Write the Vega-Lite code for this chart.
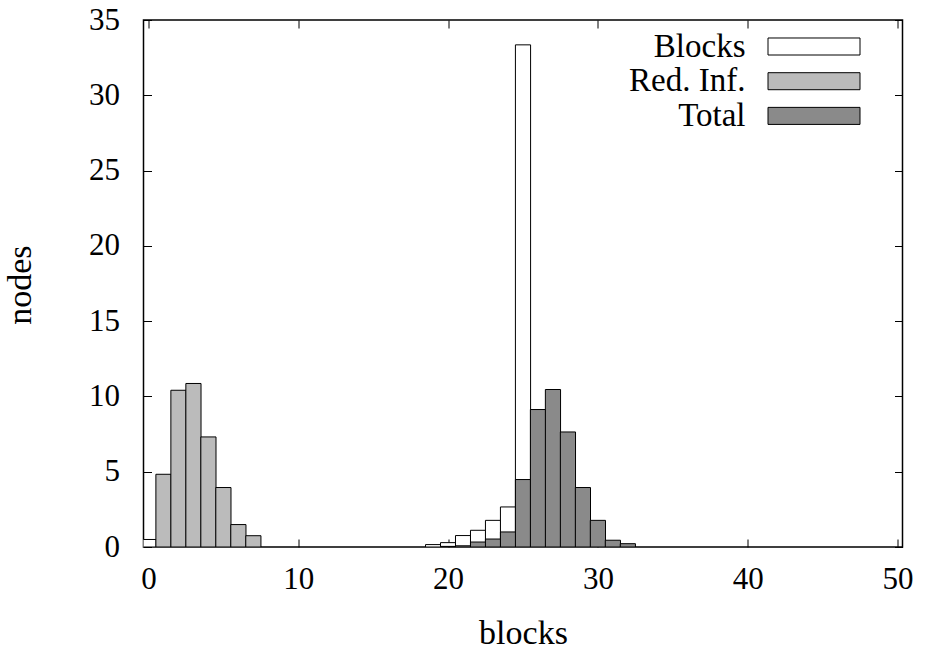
{
  "$schema": "https://vega.github.io/schema/vega-lite/v6.json",
  "autosize": "none",
  "width": 759,
  "height": 527,
  "padding": {"left": 143.5, "top": 20, "right": 26.5, "bottom": 103},
  "background": "white",
  "config": {
    "view": {"stroke": "black", "strokeWidth": 1.5},
    "font": "Liberation Serif",
    "axis": {
      "labelFont": "Liberation Serif",
      "titleFont": "Liberation Serif",
      "labelFontSize": 31,
      "titleFontSize": 34,
      "labelColor": "black",
      "titleColor": "black",
      "titleFontWeight": "normal",
      "domain": false,
      "grid": false,
      "tickColor": "black",
      "tickWidth": 1,
      "tickSize": -8,
      "labelFlush": false,
      "labelOverlap": false
    },
    "legend": {
      "labelFont": "Liberation Serif",
      "labelFontSize": 33,
      "labelColor": "black"
    }
  },
  "data": {
    "values": [
      {"block": 0, "series": "Blocks", "value": 0.5},
      {"block": 19, "series": "Blocks", "value": 0.16},
      {"block": 20, "series": "Blocks", "value": 0.29},
      {"block": 21, "series": "Blocks", "value": 0.76},
      {"block": 22, "series": "Blocks", "value": 1.11},
      {"block": 23, "series": "Blocks", "value": 1.77},
      {"block": 24, "series": "Blocks", "value": 2.66},
      {"block": 25, "series": "Blocks", "value": 33.35},
      {"block": 1, "series": "Red. Inf.", "value": 4.83},
      {"block": 2, "series": "Red. Inf.", "value": 10.41},
      {"block": 3, "series": "Red. Inf.", "value": 10.86},
      {"block": 4, "series": "Red. Inf.", "value": 7.31},
      {"block": 5, "series": "Red. Inf.", "value": 3.95},
      {"block": 6, "series": "Red. Inf.", "value": 1.49},
      {"block": 7, "series": "Red. Inf.", "value": 0.75},
      {"block": 20, "series": "Total", "value": 0.04},
      {"block": 21, "series": "Total", "value": 0.08},
      {"block": 22, "series": "Total", "value": 0.33},
      {"block": 23, "series": "Total", "value": 0.53},
      {"block": 24, "series": "Total", "value": 1.0},
      {"block": 25, "series": "Total", "value": 4.48},
      {"block": 26, "series": "Total", "value": 9.13},
      {"block": 27, "series": "Total", "value": 10.46},
      {"block": 28, "series": "Total", "value": 7.64},
      {"block": 29, "series": "Total", "value": 3.95},
      {"block": 30, "series": "Total", "value": 1.77},
      {"block": 31, "series": "Total", "value": 0.45},
      {"block": 32, "series": "Total", "value": 0.22}
    ]
  },
  "layer": [
    {
      "mark": {"type": "bar", "width": 15.18, "stroke": "black", "strokeWidth": 1, "clip": true},
      "encoding": {
        "x": {
          "field": "block", "type": "quantitative",
          "scale": {"domain": [0, 50], "nice": false, "zero": false},
          "axis": {
            "orient": "bottom", "values": [0, 10, 20, 30, 40, 50],
            "title": "blocks", "labelPadding": 25,
            "titleX": 379.5, "titleY": 96, "titleBaseline": "alphabetic", "titleAlign": "center"
          }
        },
        "y": {
          "field": "value", "type": "quantitative", "stack": null,
          "scale": {"domain": [0, 35], "nice": false},
          "axis": {
            "orient": "left", "values": [0, 5, 10, 15, 20, 25, 30, 35],
            "title": "nodes", "labelPadding": 32, "labelBaseline": "middle",
            "titleX": -123, "titleY": 264.7, "titleAngle": 270,
            "titleBaseline": "middle", "titleAlign": "center"
          }
        },
        "fill": {
          "field": "series", "type": "nominal",
          "scale": {"domain": ["Blocks", "Red. Inf.", "Total"], "range": ["#ffffff", "#bbbbbb", "#8a8a8a"]},
          "legend": {
            "title": null,
            "orient": "none",
            "legendX": 654,
            "legendY": 10,
            "padding": 0,
            "rowPadding": 0.7,
            "symbolType": "M-4,-0.74H4V0.74H-4Z",
            "symbolSize": 529,
            "symbolStrokeColor": "black",
            "symbolStrokeWidth": 1,
            "symbolOpacity": 1,
            "labelAlign": "right",
            "labelBaseline": "middle",
            "labelOffset": -85
          }
        }
      }
    },
    {
      "mark": {"type": "point", "opacity": 0},
      "encoding": {
        "x": {
          "field": "block", "type": "quantitative",
          "axis": {"orient": "top", "values": [0, 10, 20, 30, 40, 50], "labels": false, "title": null}
        },
        "y": {
          "field": "value", "type": "quantitative",
          "axis": {"orient": "right", "values": [0, 5, 10, 15, 20, 25, 30, 35], "labels": false, "title": null}
        }
      }
    }
  ],
  "resolve": {"axis": {"x": "independent", "y": "independent"}}
}
